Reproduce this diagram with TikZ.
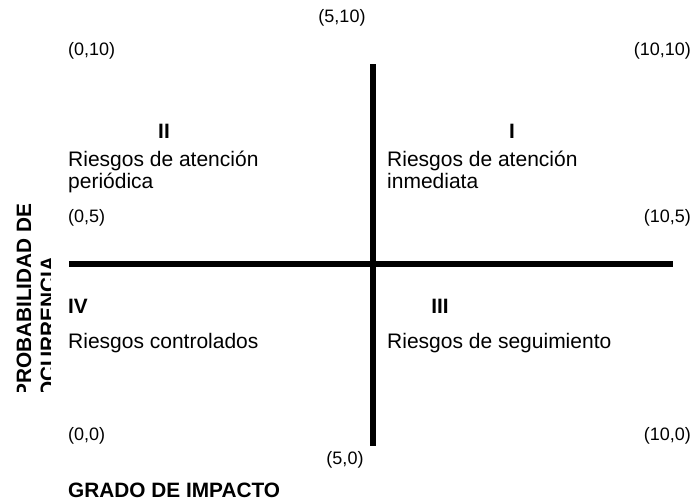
\documentclass[tikz,border=0pt]{standalone}
\usepackage{fontspec}
\setmainfont{Liberation Sans}
\begin{document}
\begin{tikzpicture}[x=1pt,y=-1pt,
  body/.style={font=\fontsize{21}{24}\selectfont, inner sep=0pt},
  bbody/.style={font=\fontsize{20.8}{24}\selectfont\bfseries, inner sep=0pt},
  coordlab/.style={font=\fontsize{18}{21}\selectfont, inner sep=0pt},
  axis/.style={line width=6pt}]
\useasboundingbox (0,0) rectangle (694,501);
% axes
\coordinate (vt) at (373,64);
\coordinate (vb) at (373,446);
\coordinate (hl) at (69,264);
\coordinate (hr) at (673,264);
\draw[axis] (vt) -- (vb);
\draw[axis] (hl) -- (hr);
% coordinate labels
\node[coordlab, anchor=base] (p510) at (342,22) {(5,10)};
\node[coordlab, anchor=base west] (p010) at (68,55) {(0,10)};
\node[coordlab, anchor=base east] (p1010) at (691,55) {(10,10)};
\node[coordlab, anchor=base west] (p05) at (68,222) {(0,5)};
\node[coordlab, anchor=base east] (p105) at (691,222) {(10,5)};
\node[coordlab, anchor=base west] (p00) at (68,440) {(0,0)};
\node[coordlab, anchor=base east] (p100) at (691,440) {(10,0)};
\node[coordlab, anchor=base] (p50) at (345,464) {(5,0)};
% quadrant numerals
\node[bbody, anchor=base] (qII) at (164,138) {II};
\node[bbody, anchor=base] (qI) at (512,138) {I};
\node[bbody, anchor=base west] (qIV) at (68,313) {IV};
\node[bbody, anchor=base] (qIII) at (440,313) {III};
% quadrant texts
\node[body, anchor=base west] (tII1) at (68,166) {Riesgos de atención};
\node[body, anchor=base west] (tII2) at (68,188) {periódica};
\node[body, anchor=base west] (tI1) at (387,166) {Riesgos de atención};
\node[body, anchor=base west] (tI2) at (387,188) {inmediata};
\node[body, anchor=base west] (tIV) at (68,348) {Riesgos controlados};
\node[body, anchor=base west] (tIII) at (387,348) {Riesgos de seguimiento};
% axis titles
\node[bbody, anchor=base west] (xt) at (68,497) {GRADO DE IMPACTO};
\begin{scope}
\clip (0,150) rectangle (50,391);
\node[bbody, rotate=90, anchor=base west] (yt1) at (31,398) {PROBABILIDAD DE};
\node[bbody, rotate=90, anchor=base west] (yt2) at (55,398) {OCURRENCIA};
\end{scope}
\end{tikzpicture}
\end{document}
